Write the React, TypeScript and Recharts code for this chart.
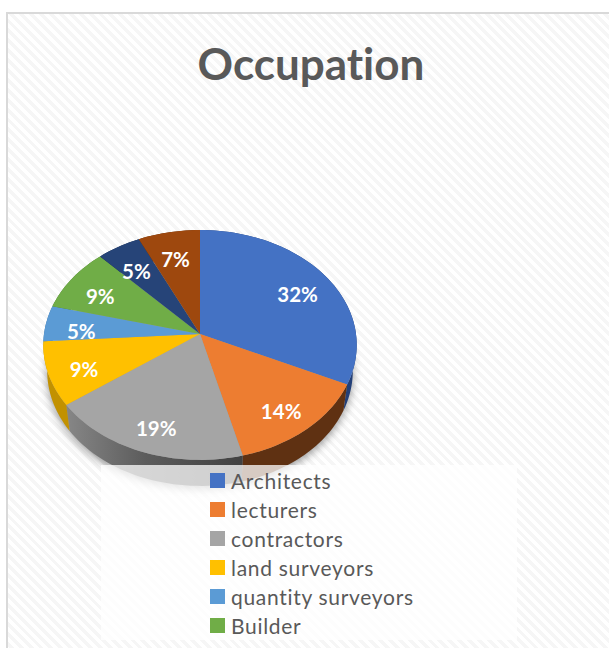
import React from 'react';
import { PieChart, Pie, Cell, Legend } from 'recharts';

const CATEGORIES = [
  'Architects',
  'lecturers',
  'contractors',
  'land surveyors',
  'quantity surveyors',
  'Builder',
  'slice 7',
  'slice 8',
];
const VALUES = [32, 14, 19, 9, 5, 9, 5, 7];
const COLORS = ['#4472c4', '#ed7d31', '#a5a5a5', '#ffc000', '#5b9bd5', '#70ad47', '#264478', '#9e480e'];
const WALL_COLORS = ['#223f78', '#5f3112', 'url(#grayWall)', '#c29100', '#3b6f9f', '#4b7a2e', '#16294a', '#5f2b08'];

const VISIBLE_LEGEND_ITEMS = 6;
const SQUASH = 0.73;
const PERSPECTIVE = 0.0955;
const DEPTH = 26;
const BASE_NARROWING = 0.975;
const LABEL_RADIUS = 0.77;
const LABEL_DROP = 5;

const chartData = CATEGORIES.map((name, i) => ({ name, value: VALUES[i] }));

// tilted pie: circle point -> perspective ellipse
function project(cx: number, cy: number, r: number, angle: number, f = 1) {
  const u = Math.cos((angle * Math.PI) / 180) * f;
  const v = Math.sin((angle * Math.PI) / 180) * f;
  const w = 1 + PERSPECTIVE * v;
  return { x: cx + (r * u) / w, y: cy - (r * SQUASH * v) / w };
}

function arcPoints(props: any) {
  const { cx, cy, outerRadius, startAngle, endAngle } = props;
  const steps = Math.max(4, Math.ceil(Math.abs(endAngle - startAngle) / 2));
  const pts = [];
  for (let i = 0; i <= steps; i++) {
    pts.push(project(cx, cy, outerRadius, startAngle + ((endAngle - startAngle) * i) / steps));
  }
  return pts;
}

const toPath = (pts: { x: number; y: number }[]) =>
  pts.map((p, i) => `${i === 0 ? 'M' : 'L'}${p.x.toFixed(2)},${p.y.toFixed(2)}`).join(' ') + ' Z';

function TopSlice(props: any) {
  const pts = arcPoints(props);
  return <path d={toPath([{ x: props.cx, y: props.cy }, ...pts])} fill={props.fill} />;
}

function WallSlice(props: any) {
  const pts = arcPoints(props);
  const lower = [...pts]
    .reverse()
    .map((p) => ({ x: props.cx + (p.x - props.cx) * BASE_NARROWING, y: p.y + DEPTH }));
  return <path d={toPath([...pts, ...lower])} fill={props.fill} />;
}

function ShadowSlice(props: any) {
  const pts = arcPoints(props).map((p) => ({
    x: props.cx + (p.x - props.cx) * BASE_NARROWING,
    y: p.y + DEPTH + 3,
  }));
  return (
    <path
      d={toPath([{ x: props.cx, y: props.cy + DEPTH + 3 }, ...pts])}
      fill="#000"
      fillOpacity={0.4}
      style={{ filter: 'blur(4px)' }}
    />
  );
}

function renderLabel(props: any) {
  const { cx, cy, outerRadius, midAngle, value } = props;
  const p = project(cx, cy, outerRadius, midAngle, LABEL_RADIUS);
  return (
    <text
      x={p.x}
      y={p.y + LABEL_DROP}
      fill="#fff"
      textAnchor="middle"
      dominantBaseline="central"
      style={{ fontFamily: 'Lato', fontWeight: 700, fontSize: 20.5 }}
    >
      {`${value}%`}
    </text>
  );
}

function renderLegend(props: any) {
  // only the top pie's entries, the wall and shadow pies share its names
  const items = (props.payload || [])
    .filter((item: any) => item.type !== 'none' && COLORS.includes(item.color))
    .slice(0, VISIBLE_LEGEND_ITEMS);
  return (
    <div style={{ paddingLeft: 109, paddingTop: 1 }}>
      {items.map((item: any) => (
        <div key={item.value} style={{ display: 'flex', alignItems: 'center', height: 29 }}>
          <span style={{ width: 15, height: 15, background: item.color, marginRight: 6 }} />
          <span style={{ fontFamily: 'Lato', fontSize: 21, color: '#595959', letterSpacing: 0.7 }}>{item.value}</span>
        </div>
      ))}
    </div>
  );
}

export default function App() {
  return (
    <div
      style={{
        position: 'fixed',
        left: 0,
        top: 0,
        width: 609,
        height: 648,
        overflow: 'hidden',
        background: '#fff',
      }}
    >
      <div
        style={{
          position: 'absolute',
          left: 6,
          top: 12,
          width: 800,
          height: 800,
          boxSizing: 'border-box',
          border: '2px solid #d9d9d9',
          background: 'repeating-linear-gradient(45deg, #ffffff 0 3.5px, #f6f6f6 3.5px 7px)',
        }}
      />
      <div style={{ position: 'absolute', left: 0, top: 0 }}>
        <PieChart width={609} height={648} margin={{ top: 0, right: 0, bottom: 0, left: 0 }}>
          <defs>
            <linearGradient id="grayWall" gradientUnits="userSpaceOnUse" x1={60} y1={0} x2={250} y2={0}>
              <stop offset="0%" stopColor="#8a8a8a" />
              <stop offset="45%" stopColor="#5c5c5c" />
              <stop offset="100%" stopColor="#3f3f3f" />
            </linearGradient>
          </defs>
          <text
            x={311}
            y={80}
            textAnchor="middle"
            fill="#595959"
            style={{ fontFamily: 'Lato', fontWeight: 700, fontSize: 44, fontVariantLigatures: 'none' }}
          >
            Occupation
          </text>
          <Pie
            data={chartData}
            dataKey="value"
            nameKey="name"
            cx={200}
            cy={334}
            outerRadius={156}
            startAngle={90}
            endAngle={-270}
            legendType="none"
            stroke="none"
            shape={ShadowSlice}
            isAnimationActive={false}
          />
          <Pie
            data={chartData}
            dataKey="value"
            nameKey="name"
            cx={200}
            cy={334}
            outerRadius={156}
            startAngle={90}
            endAngle={-270}
            legendType="none"
            stroke="none"
            shape={WallSlice}
            isAnimationActive={false}
          >
            {chartData.map((entry, index) => (
              <Cell key={`wall-${index}`} fill={WALL_COLORS[index]} />
            ))}
          </Pie>
          <Pie
            data={chartData}
            dataKey="value"
            nameKey="name"
            cx={200}
            cy={334}
            outerRadius={156}
            startAngle={90}
            endAngle={-270}
            stroke="none"
            shape={TopSlice}
            label={renderLabel}
            labelLine={false}
            isAnimationActive={false}
          >
            {chartData.map((entry, index) => (
              <Cell key={`cell-${index}`} fill={COLORS[index]} />
            ))}
          </Pie>
          <Legend
            content={renderLegend}
            itemSorter={null}
            wrapperStyle={{
              left: 101,
              top: 465,
              bottom: 'auto',
              width: 416,
              height: 175,
              background: 'rgba(255,255,255,0.75)',
            }}
          />
        </PieChart>
      </div>
    </div>
  );
}
